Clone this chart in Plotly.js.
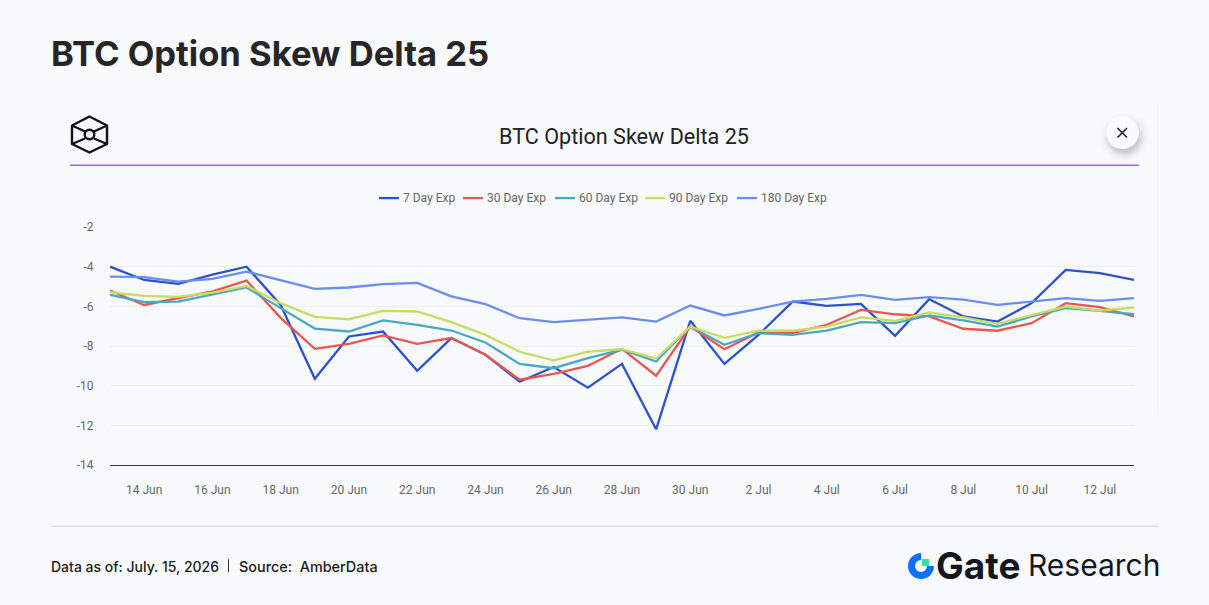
<!DOCTYPE html>
<html>
<head>
<meta charset="utf-8">
<script src="https://cdn.plot.ly/plotly-3.0.1.min.js"></script>
<style>
  html, body { margin: 0; padding: 0; background: #f8f9fb; }
  #wrap { position: relative; width: 1209px; height: 605px; overflow: hidden; }
  #chart { position: absolute; left: 0; top: 0; width: 1209px; height: 605px; }
  .deco { position: absolute; left: 0; top: 0; pointer-events: none; }
  #closeBtn {
    position: absolute; left: 1106px; top: 116px; width: 33px; height: 33px;
    border-radius: 50%; background: #f9fafb;
    box-shadow: 2px 5px 9px rgba(0, 0, 0, 0.25);
  }
</style>
</head>
<body>
<div id="wrap">
  <div id="chart"></div>
  <div id="closeBtn"></div>
  <svg class="deco" width="1209" height="605" viewBox="0 0 1209 605">
    <!-- box logo, top left -->
    <g fill="none" stroke="#111" stroke-width="2.4" stroke-linejoin="round">
      <path d="M89.5 116.5 L107 125.5 V144 L89.5 152.5 L72 144 V125.5 Z"/>
      <path d="M72 125.5 L85 131.5 M107 125.5 L94 131.5 M72 144 L85 138.5 M107 144 L94 138.5"/>
      <circle cx="89.5" cy="134.5" r="4.8"/>
    </g>
    <path d="M1117.5 128 L1127 137.5 M1127 128 L1117.5 137.5" stroke="#222" stroke-width="1.6" fill="none"/>
    <!-- gate mark, bottom right -->
    <path d="M921 556.5 A9.5 9.5 0 1 0 930.5 566" fill="none" stroke="#0f6fff" stroke-width="7"/>
    <rect x="922" y="559" width="7" height="7" fill="#2be3a5"/>
  </svg>
</div>
<script>
const dates = ['2026-06-13','2026-06-14','2026-06-15','2026-06-16','2026-06-17','2026-06-18','2026-06-19','2026-06-20','2026-06-21','2026-06-22','2026-06-23','2026-06-24','2026-06-25','2026-06-26','2026-06-27','2026-06-28','2026-06-29','2026-06-30','2026-07-01','2026-07-02','2026-07-03','2026-07-04','2026-07-05','2026-07-06','2026-07-07','2026-07-08','2026-07-09','2026-07-10','2026-07-11','2026-07-12','2026-07-13']

const exp7 = [-4.0,-4.67,-4.87,-4.4,-4.0,-5.93,-9.65,-7.52,-7.27,-9.25,-7.6,-8.44,-9.8,-9.06,-10.1,-8.9,-12.2,-6.73,-8.9,-7.44,-5.76,-5.98,-5.88,-7.49,-5.64,-6.51,-6.77,-5.84,-4.16,-4.33,-4.67]
const exp30 = [-5.2,-5.93,-5.59,-5.25,-4.7,-6.58,-8.14,-7.89,-7.47,-7.89,-7.6,-8.44,-9.7,-9.41,-9.0,-8.14,-9.5,-7.02,-8.16,-7.32,-7.35,-6.93,-6.18,-6.4,-6.51,-7.13,-7.23,-6.85,-5.84,-6.04,-6.51]
const exp60 = [-5.42,-5.79,-5.76,-5.42,-5.05,-6.09,-7.12,-7.27,-6.71,-6.93,-7.22,-7.82,-8.9,-9.12,-8.61,-8.19,-8.78,-7.02,-7.94,-7.35,-7.44,-7.23,-6.8,-6.85,-6.46,-6.71,-7.02,-6.51,-6.09,-6.23,-6.4]
const exp90 = [-5.29,-5.47,-5.52,-5.31,-4.97,-5.84,-6.53,-6.65,-6.23,-6.26,-6.8,-7.44,-8.29,-8.73,-8.29,-8.16,-8.63,-7.02,-7.59,-7.22,-7.23,-7.02,-6.56,-6.73,-6.31,-6.56,-6.88,-6.43,-6.01,-6.21,-6.06]
const exp180 = [-4.5,-4.53,-4.75,-4.62,-4.25,-4.7,-5.12,-5.05,-4.88,-4.82,-5.5,-5.89,-6.6,-6.8,-6.68,-6.56,-6.77,-5.96,-6.46,-6.13,-5.76,-5.62,-5.42,-5.67,-5.54,-5.66,-5.93,-5.77,-5.59,-5.72,-5.59]

const seriesNames = ['7 Day Exp','30 Day Exp','60 Day Exp','90 Day Exp','180 Day Exp']
const seriesValues = [exp7, exp30, exp60, exp90, exp180]
const seriesColors = ['#2b52cc','#e9574f','#4aa9bf','#c8dc62','#6a8eee']

// plot box in page pixels, used to place the page furniture
const left = 110, right = 1134, top_ = 227, bottom = 465.5
const px = x => (x - left) / (right - left)
const py = y => (bottom - y) / (bottom - top_)

const traces = seriesNames.map((name, i) => ({
  x: dates,
  y: seriesValues[i],
  name: name,
  type: 'scatter',
  mode: 'lines',
  line: { color: seriesColors[i], width: 2.3 }
}))

function label(text, x, y, size, family, color, anchor, weight) {
  return {
    text: text, xref: 'paper', yref: 'paper', x: px(x), y: py(y),
    xanchor: anchor || 'left', yanchor: 'middle', showarrow: false,
    font: { size: size, family: family, color: color, weight: weight || 400 }
  }
}

function rule(x0, y0, x1, y1, color, width) {
  return {
    type: 'line', xref: 'paper', yref: 'paper',
    x0: px(x0), y0: py(y0), x1: px(x1), y1: py(y1),
    line: { color: color, width: width }
  }
}

// the legend keys are short and tight, narrower than the library legend allows
const legendStart = [379, 463, 555, 645, 737]
const legendRules = seriesNames.map((name, i) => rule(legendStart[i], 198, legendStart[i] + 20, 198, seriesColors[i], 2.3))
const legendLabels = seriesNames.map((name, i) => label(name, legendStart[i] + 22, 198, 12, 'Roboto, sans-serif', '#666'))

const layout = {
  width: 1209,
  height: 605,
  margin: { l: left, r: 1209 - right, t: top_, b: 605 - bottom },
  paper_bgcolor: '#f8f9fb',
  plot_bgcolor: '#f8f9fb',
  font: { family: 'Roboto, sans-serif', size: 12, color: '#666' },
  showlegend: false,
  xaxis: {
    type: 'date',
    range: ['2026-06-13', '2026-07-13'],
    tick0: '2026-06-14',
    dtick: 172800000,
    tickformat: '%-d %b',
    showgrid: false,
    showline: true,
    linecolor: '#333',
    linewidth: 1,
    ticks: 'outside',
    ticklen: 14,
    tickcolor: 'rgba(0,0,0,0)',
    tickfont: { size: 12, color: '#666' }
  },
  yaxis: {
    range: [-14, -2],
    tickvals: [-14, -12, -10, -8, -6, -4, -2],
    ticktext: ['-14', '-12', '-10', '-8', '-6', '-4', '-2'],
    showgrid: true,
    gridcolor: '#eeeff1',
    gridwidth: 1,
    zeroline: false,
    ticks: 'outside',
    ticklen: 13,
    tickcolor: 'rgba(0,0,0,0)',
    tickfont: { size: 12, color: '#666' }
  },
  annotations: [
    label('BTC Option Skew Delta 25', 49, 53, 34.6, 'Inter, sans-serif', '#262626', 'left', 700),
    label('BTC Option Skew Delta 25', 624, 136, 21.6, 'Roboto, sans-serif', '#222', 'center'),
    label('Data as of: July. 15, 2026', 49, 567, 14, 'Inter, sans-serif', '#1c1c1c', 'left', 500),
    label('Source:  AmberData', 237, 567, 14.4, 'Inter, sans-serif', '#1c1c1c', 'left', 500),
    label('Gate', 934, 566, 37, 'Inter, sans-serif', '#14161f', 'left', 700),
    label('Research', 1026, 566, 30, 'Inter, sans-serif', '#14161f')
  ].concat(legendLabels),
  shapes: [
    rule(70, 165, 1139, 165, '#a961e6', 1.5),
    rule(51, 527, 1159, 527, '#e1e2e5', 1.5),
    rule(1157.5, 103, 1157.5, 415, '#f1f2f4', 1),
    rule(228.5, 560, 228.5, 573, '#333', 1)
  ].concat(legendRules)
}

Plotly.newPlot('chart', traces, layout, { displayModeBar: false, responsive: false })
</script>
</body>
</html>
